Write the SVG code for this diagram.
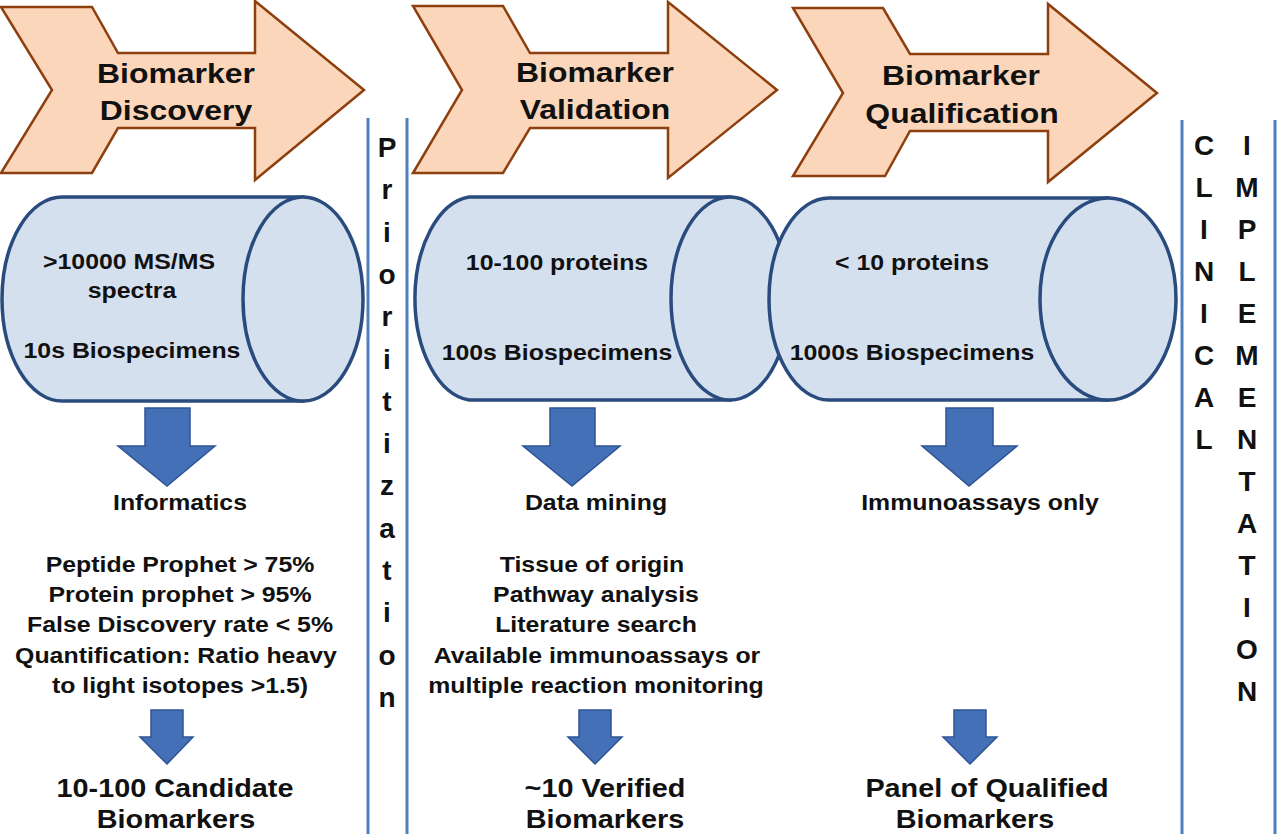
<svg xmlns="http://www.w3.org/2000/svg" width="1280" height="836" viewBox="0 0 1280 836">
<style>
.chev{fill:#FBD6BA;stroke:#8E3F0E;stroke-width:2.5;stroke-linejoin:miter}
.cyl{fill:#D5E0EF;stroke:#2A4B7E;stroke-width:3.5}
.barr{fill:#4470B8;stroke:#2E5394;stroke-width:1.5;stroke-linejoin:miter}
.vline{stroke:#4F7FBF;stroke-width:3;fill:none}
text{font-family:"Liberation Sans",Arial,sans-serif;font-weight:bold;fill:#111;text-anchor:middle}
.t28{font-size:28px}
.t22{font-size:22px}
.t25{font-size:25.5px}
.v{font-size:28px}
</style>
<rect width="1280" height="836" fill="#fff"/>

<g id="connectors">
  <line class="vline" x1="368" y1="118" x2="368" y2="834"/>
  <line class="vline" x1="407" y1="118" x2="407" y2="834"/>
  <line class="vline" x1="1182" y1="120" x2="1182" y2="834"/>
  <line class="vline" x1="1275" y1="120" x2="1275" y2="834"/>
  <path class="barr" d="M145 408 H190 V446 H215 L167 486 L118 446 H145 Z"/>
  <path class="barr" d="M550 408 H595 V446 H620 L572 486 L523 446 H550 Z"/>
  <path class="barr" d="M946 408 H993 V446 H1017 L969 486 L922 446 H946 Z"/>
  <path class="barr" d="M151 710 H183 V737 H193 L167 764 L140 737 H151 Z"/>
  <path class="barr" d="M579 710 H611 V737 H622 L595 764 L568 737 H579 Z"/>
  <path class="barr" d="M954 710 H986 V737 H997 L970 764 L943 737 H954 Z"/>
</g>

<g id="chevron-discovery">
  <path class="chev" d="M1 7 H92 L118 53 H255 V1 L364 90 L255 180 V128 H118 L92 173 H1 L52 90 Z"/>
  <text class="t28" transform="translate(176,83) scale(1.14,1)">Biomarker</text>
  <text class="t28" transform="translate(176,120) scale(1.14,1)">Discovery</text>
</g>
<g id="chevron-validation">
  <path class="chev" d="M413 6 H503 L530 53 H668 V2 L777 90 L668 178 V128 H530 L503 173 H413 L462 90 Z"/>
  <text class="t28" transform="translate(595,82) scale(1.14,1)">Biomarker</text>
  <text class="t28" transform="translate(595,119) scale(1.14,1)">Validation</text>
</g>
<g id="chevron-qualification">
  <path class="chev" d="M793 8 H883 L910 54 H1048 V4 L1157 93 L1048 182 V131 H910 L885 176 H793 L843 93 Z"/>
  <text class="t28" transform="translate(961,85) scale(1.14,1)">Biomarker</text>
  <text class="t28" transform="translate(962,123) scale(1.14,1)">Qualification</text>
</g>

<g id="cylinder-discovery">
  <path class="cyl" d="M303 197 H62 A60 102 0 0 0 62 401 H303 Z"/>
  <ellipse class="cyl" cx="303" cy="299" rx="60" ry="102"/>
  <text class="t22" transform="translate(129,269) scale(1.13,1)">&gt;10000 MS/MS</text>
  <text class="t22" transform="translate(132,298) scale(1.13,1)">spectra</text>
  <text class="t22" transform="translate(132,358) scale(1.13,1)">10s Biospecimens</text>
</g>
<g id="cylinder-validation">
  <path class="cyl" d="M730 197 H469 A60 102 0 0 0 469 400 H730 Z"/>
  <ellipse class="cyl" cx="730" cy="298.5" rx="59" ry="101.5"/>
  <text class="t22" transform="translate(557,270) scale(1.13,1)">10-100 proteins</text>
  <text class="t22" transform="translate(557,360) scale(1.13,1)">100s Biospecimens</text>
</g>
<g id="cylinder-qualification">
  <path class="cyl" d="M1108 198 H829 A60 101 0 0 0 829 400 H1108 Z"/>
  <ellipse class="cyl" cx="1108" cy="299" rx="68" ry="101"/>
  <text class="t22" transform="translate(912,270) scale(1.13,1)">&lt; 10 proteins</text>
  <text class="t22" transform="translate(912,360) scale(1.13,1)">1000s Biospecimens</text>
</g>

<g id="prioritization">
  <text class="v" x="387" y="157">P</text>
  <text class="v" x="387" y="199">r</text>
  <text class="v" x="387" y="242">i</text>
  <text class="v" x="387" y="284">o</text>
  <text class="v" x="387" y="326">r</text>
  <text class="v" x="387" y="369">i</text>
  <text class="v" x="387" y="411">t</text>
  <text class="v" x="387" y="453">i</text>
  <text class="v" x="387" y="495">z</text>
  <text class="v" x="387" y="538">a</text>
  <text class="v" x="387" y="580">t</text>
  <text class="v" x="387" y="622">i</text>
  <text class="v" x="387" y="665">o</text>
  <text class="v" x="387" y="707">n</text>
</g>

<g id="clinical-implementation">
  <text class="v" x="1204" y="155">C</text>
  <text class="v" x="1204" y="197">L</text>
  <text class="v" x="1204" y="239">I</text>
  <text class="v" x="1204" y="281">N</text>
  <text class="v" x="1204" y="323">I</text>
  <text class="v" x="1204" y="365">C</text>
  <text class="v" x="1204" y="407">A</text>
  <text class="v" x="1204" y="449">L</text>
  <text class="v" x="1247" y="155">I</text>
  <text class="v" x="1247" y="197">M</text>
  <text class="v" x="1247" y="239">P</text>
  <text class="v" x="1247" y="281">L</text>
  <text class="v" x="1247" y="323">E</text>
  <text class="v" x="1247" y="365">M</text>
  <text class="v" x="1247" y="407">E</text>
  <text class="v" x="1247" y="449">N</text>
  <text class="v" x="1247" y="491">T</text>
  <text class="v" x="1247" y="533">A</text>
  <text class="v" x="1247" y="575">T</text>
  <text class="v" x="1247" y="617">I</text>
  <text class="v" x="1247" y="659">O</text>
  <text class="v" x="1247" y="701">N</text>
</g>

<g id="discovery-details">
  <text class="t22" transform="translate(180,510) scale(1.13,1)">Informatics</text>
  <text class="t22" transform="translate(180,572) scale(1.13,1)">Peptide Prophet &gt; 75%</text>
  <text class="t22" transform="translate(180,602) scale(1.13,1)">Protein prophet &gt; 95%</text>
  <text class="t22" transform="translate(180,632) scale(1.13,1)">False Discovery rate &lt; 5%</text>
  <text class="t22" transform="translate(176,663) scale(1.13,1)">Quantification: Ratio heavy</text>
  <text class="t22" transform="translate(180,693) scale(1.13,1)">to light isotopes &gt;1.5)</text>
  <text class="t25" transform="translate(175,797) scale(1.13,1)">10-100 Candidate</text>
  <text class="t25" transform="translate(176,828) scale(1.13,1)">Biomarkers</text>
</g>
<g id="validation-details">
  <text class="t22" transform="translate(596,510) scale(1.13,1)">Data mining</text>
  <text class="t22" transform="translate(592,572) scale(1.13,1)">Tissue of origin</text>
  <text class="t22" transform="translate(596,602) scale(1.13,1)">Pathway analysis</text>
  <text class="t22" transform="translate(596,632) scale(1.13,1)">Literature search</text>
  <text class="t22" transform="translate(597,663) scale(1.13,1)">Available immunoassays or</text>
  <text class="t22" transform="translate(596,693) scale(1.13,1)">multiple reaction monitoring</text>
  <text class="t25" transform="translate(605,797) scale(1.13,1)">~10 Verified</text>
  <text class="t25" transform="translate(605,828) scale(1.13,1)">Biomarkers</text>
</g>
<g id="qualification-details">
  <text class="t22" transform="translate(980,510) scale(1.13,1)">Immunoassays only</text>
  <text class="t25" transform="translate(987,797) scale(1.13,1)">Panel of Qualified</text>
  <text class="t25" transform="translate(975,828) scale(1.13,1)">Biomarkers</text>
</g>
</svg>
